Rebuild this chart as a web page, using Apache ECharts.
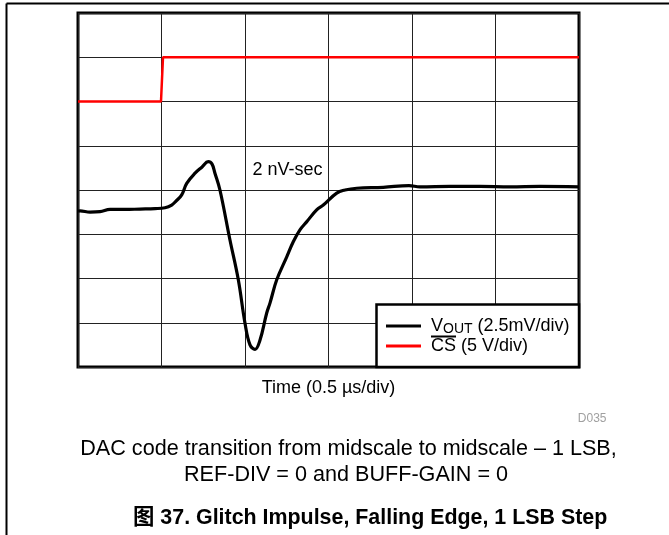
<!DOCTYPE html>
<html>
<head>
<meta charset="utf-8">
<script src="https://cdn.jsdelivr.net/npm/echarts@6/dist/echarts.min.js"></script>
<style>
html,body{margin:0;padding:0;background:#fff;}
#chart{width:669px;height:535px;}
</style>
</head>
<body>
<div id="chart"></div>
<script>
// Time axis in µs (0.5 µs/div), vertical values in scope divisions (0..8)
const voutTime = [0.000,0.012,0.072,0.132,0.192,0.281,0.371,0.461,0.521,0.561,0.587,0.621,0.651,0.701,0.743,0.780,0.802,0.820,0.850,0.910,0.960,1.000,1.030,1.060,1.090,1.130,1.150,1.190,1.250,1.289,1.329,1.369,1.429,1.469,1.549,1.599,1.669,1.828,1.982,2.048,2.228,2.407,2.587,2.766,3.000];
const voutDiv  = [3.52,3.53,3.50,3.51,3.56,3.56,3.57,3.58,3.60,3.66,3.75,3.89,4.15,4.38,4.52,4.64,4.59,4.38,4.00,2.87,1.97,0.99,0.50,0.40,0.61,1.22,1.45,1.97,2.49,2.83,3.10,3.28,3.55,3.66,3.93,4.00,4.04,4.06,4.10,4.07,4.08,4.08,4.07,4.08,4.07];
const csTime = [0, 0.497, 0.509, 3.0];
const csDiv  = [6, 6, 7, 7];
const seriesNames = ['VOUT', 'CS'];
const xTitle = 'Time (0.5 \u00b5s/div)';
const annotation = '2 nV-sec';
const captionLines = ['DAC code transition from midscale to midscale \u2013 1 LSB,', 'REF-DIV = 0 and BUFF-GAIN = 0'];
const figTitle = '\u56fe 37. Glitch Impulse, Falling Edge, 1 LSB Step';
const figId = 'D035';

const FONT = "'Liberation Sans', Arial, Helvetica, sans-serif";
const chart = echarts.init(document.getElementById('chart'), null, {renderer: 'canvas'});

const zip = (a, b) => a.map((v, i) => [v, b[i]]);

chart.setOption({
  animation: false,
  backgroundColor: '#fff',
  grid: {left: 78, top: 13, width: 501, height: 354, show: true, borderColor: '#000', borderWidth: 3, containLabel: false},
  xAxis: {
    type: 'value', min: 0, max: 3, interval: 0.5,
    axisLine: {show: false}, axisTick: {show: false}, axisLabel: {show: false},
    splitLine: {show: true, lineStyle: {color: '#222', width: 1}},
    name: xTitle, nameLocation: 'middle', nameGap: 12,
    nameTextStyle: {fontFamily: FONT, fontSize: 18, color: '#000'}
  },
  yAxis: {
    type: 'value', min: 0, max: 8, interval: 1,
    axisLine: {show: false}, axisTick: {show: false}, axisLabel: {show: false},
    splitLine: {show: true, lineStyle: {color: '#222', width: 1}}
  },
  legend: {
    orient: 'vertical', left: 386, top: 316, padding: 0, itemGap: 0,
    itemWidth: 35, itemHeight: 3, icon: 'rect', z: 10,
    data: seriesNames,
    formatter: function (name) {
      if (name === 'VOUT') return '{a|V}{s|OUT}{a| (2.5mV/div)}';
      return '{a|CS (5 V/div)}';
    },
    textStyle: {
      fontFamily: FONT, fontSize: 18, color: '#000', lineHeight: 20, padding: [0, 0, 0, 5],
      rich: {
        a: {fontFamily: FONT, fontSize: 18, color: '#000', lineHeight: 20},
        s: {fontFamily: FONT, fontSize: 14, color: '#000', lineHeight: 14, verticalAlign: 'bottom'}
      }
    }
  },
  series: [
    {
      name: 'VOUT', type: 'line', data: zip(voutTime, voutDiv),
      showSymbol: false, smooth: 0.4,
      lineStyle: {color: '#000', width: 3.2}, itemStyle: {color: '#000'}, z: 3
    },
    {
      name: 'CS', type: 'line', data: zip(csTime, csDiv),
      showSymbol: false,
      lineStyle: {color: '#ff0000', width: 2.5}, itemStyle: {color: '#ff0000'}, z: 3
    }
  ],
  graphic: [
    {type: 'line', shape: {x1: 6.5, y1: 3.5, x2: 669, y2: 3.5}, style: {stroke: '#000', lineWidth: 2}},
    {type: 'line', shape: {x1: 6.5, y1: 3.5, x2: 6.5, y2: 535}, style: {stroke: '#000', lineWidth: 2}},
    {type: 'rect', z: 8, shape: {x: 376.5, y: 304.5, width: 202.5, height: 62.5}, style: {fill: '#fff', stroke: '#000', lineWidth: 2.5}},
    {type: 'line', z: 12, shape: {x1: 431, y1: 336.5, x2: 456, y2: 336.5}, style: {stroke: '#000', lineWidth: 2}},
    {type: 'text', z: 12, x: 252.5, y: 170, style: {text: annotation, font: '18px ' + FONT, fill: '#000', textAlign: 'left', textVerticalAlign: 'middle'}},
    {type: 'text', x: 606.5, y: 419, style: {text: figId, font: '12px ' + FONT, fill: '#a0a0a0', textAlign: 'right', textVerticalAlign: 'middle'}},
    {type: 'text', x: 348.5, y: 449, style: {text: captionLines[0], font: '21.6px ' + FONT, fill: '#000', textAlign: 'center', textVerticalAlign: 'middle'}},
    {type: 'text', x: 346, y: 475, style: {text: captionLines[1], font: '21.6px ' + FONT, fill: '#000', textAlign: 'center', textVerticalAlign: 'middle'}},
    {type: 'text', x: 133, y: 518, style: {text: figTitle, font: "bold 21.4px 'Liberation Sans', 'Noto Sans CJK SC', Arial, sans-serif", fill: '#000', textAlign: 'left', textVerticalAlign: 'middle'}}
  ]
});
</script>
</body>
</html>
